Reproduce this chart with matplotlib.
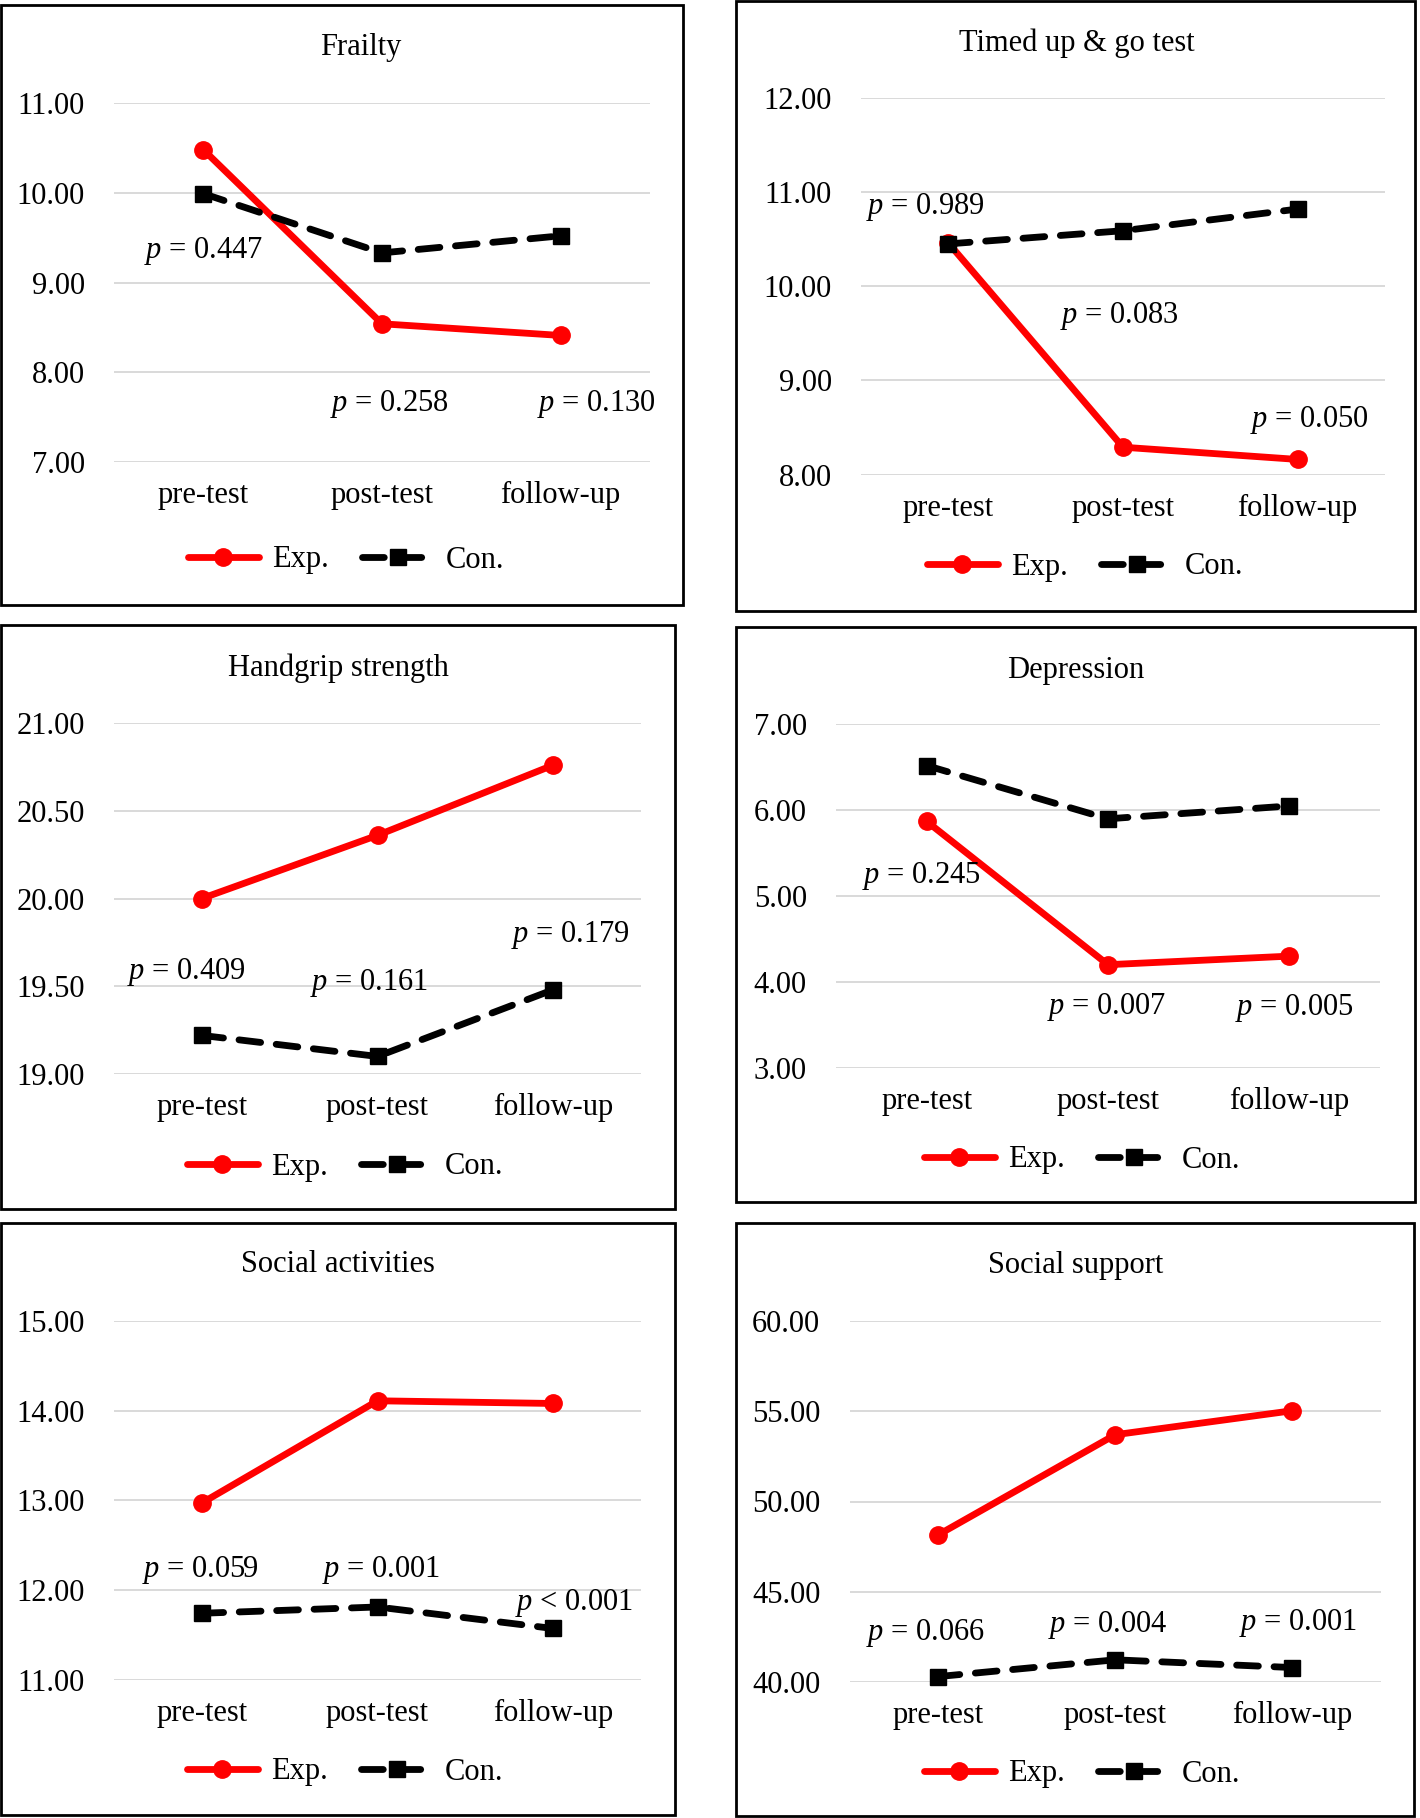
import matplotlib
matplotlib.use('Agg')
import matplotlib.pyplot as plt
from matplotlib.patches import Rectangle

plt.rcParams['font.family'] = ['Liberation Serif', 'DejaVu Serif']
plt.rcParams['mathtext.fontset'] = 'custom'
plt.rcParams['mathtext.rm'] = 'Liberation Serif'
plt.rcParams['mathtext.it'] = 'Liberation Serif:italic'

# ── Data ──────────────────────────────────────────────────────────────────────
categories = ['pre-test', 'post-test', 'follow-up']
titles = ['Frailty', 'Timed up & go test', 'Handgrip strength',
          'Depression', 'Social activities', 'Social support']

frailty_exp = [10.48, 8.54, 8.41]
frailty_con = [9.99, 9.33, 9.52]
tug_exp = [10.46, 8.29, 8.16]
tug_con = [10.45, 10.59, 10.82]
grip_exp = [20.00, 20.36, 20.76]
grip_con = [19.22, 19.10, 19.48]
dep_exp = [5.87, 4.20, 4.30]
dep_con = [6.52, 5.90, 6.05]
act_exp = [12.97, 14.11, 14.08]
act_con = [11.74, 11.81, 11.57]
sup_exp = [48.15, 53.70, 55.03]
sup_con = [40.30, 41.23, 40.80]

frailty_ticks = [7, 8, 9, 10, 11]
tug_ticks = [8, 9, 10, 11, 12]
grip_ticks = [19.0, 19.5, 20.0, 20.5, 21.0]
dep_ticks = [3, 4, 5, 6, 7]
act_ticks = [11, 12, 13, 14, 15]
sup_ticks = [40, 45, 50, 55, 60]

frailty_p = ['= 0.447', '= 0.258', '= 0.130']
tug_p = ['= 0.989', '= 0.083', '= 0.050']
grip_p = ['= 0.409', '= 0.161', '= 0.179']
dep_p = ['= 0.245', '= 0.007', '= 0.005']
act_p = ['= 0.059', '= 0.001', '< 0.001']
sup_p = ['= 0.066', '= 0.004', '= 0.001']

# ── Layout (pixels in the 1420x1818 canvas, y from top) ───────────────────────
W, H = 1420, 1818
layout = [
    # box, axes (x0, ytop, x1, ybottom), title xy, legend xy, p-label positions
    dict(box=(1, 5, 683, 605), ax=(114, 103, 650, 462), t=(361, 47), leg=(346, 560),
         pxy=[(0.0, 9.35), (1.04, 7.65), (2.20, 7.65)]),
    dict(box=(736, 1, 1415, 611), ax=(861, 98, 1385, 474.5), t=(1077, 43), leg=(1085, 567),
         pxy=[(-0.13, 10.84), (0.98, 9.68), (2.07, 8.58)]),
    dict(box=(1, 625, 675, 1209), ax=(114, 723, 641, 1074), t=(338, 668), leg=(345, 1167),
         pxy=[(-0.09, 19.58), (0.95, 19.52), (2.10, 19.79)]),
    dict(box=(736, 627, 1415, 1202), ax=(836, 724.4, 1380, 1067.7), t=(1076, 671), leg=(1082, 1160),
         pxy=[(-0.03, 5.23), (0.99, 3.71), (2.03, 3.70)]),
    dict(box=(1, 1223, 675, 1815), ax=(114, 1321, 641, 1679.6), t=(338, 1265), leg=(345, 1772),
         pxy=[(-0.01, 12.22), (1.02, 12.22), (2.12, 11.86)]),
    dict(box=(736, 1223, 1414, 1816), ax=(849.5, 1321, 1381, 1682), t=(1076, 1266), leg=(1082, 1774),
         pxy=[(-0.07, 42.69), (0.96, 43.16), (2.03, 43.27)]),
]

series = [
    (frailty_exp, frailty_con, frailty_ticks, frailty_p),
    (tug_exp, tug_con, tug_ticks, tug_p),
    (grip_exp, grip_con, grip_ticks, grip_p),
    (dep_exp, dep_con, dep_ticks, dep_p),
    (act_exp, act_con, act_ticks, act_p),
    (sup_exp, sup_con, sup_ticks, sup_p),
]

FS = 22
RED = '#ff0000'


def fx(px):
    return px / W


def fy(py):
    return 1 - py / H


fig = plt.figure(figsize=(W / 100, H / 100), dpi=100)

for title, (exp, con, ticks, pvals), lay in zip(titles, series, layout):
    x0, yt, x1, yb = lay['ax']
    ax = fig.add_axes([fx(x0), fy(yb), fx(x1) - fx(x0), fy(yt) - fy(yb)])
    xs = list(range(len(categories)))

    l_exp, = ax.plot(xs, exp, color=RED, lw=4.9, marker='o', ms=12.5,
                     solid_capstyle='round', clip_on=False, zorder=3)
    l_con, = ax.plot(xs, con, color='black', lw=4.9, marker='s', ms=12,
                     dashes=(3.2, 2.3), dash_capstyle='round',
                     clip_on=False, zorder=4)

    ax.set_xlim(-0.5, len(categories) - 0.5)
    ax.set_ylim(ticks[0], ticks[-1])
    ax.set_yticks(ticks)
    ax.set_yticklabels([f'{t:.2f}' for t in ticks])
    ax.set_xticks(xs)
    ax.set_xticklabels(categories)
    ax.tick_params(axis='both', length=0, labelsize=FS)
    ax.tick_params(axis='y', pad=21)
    ax.tick_params(axis='x', pad=14)
    for s in ax.spines.values():
        s.set_visible(False)
    ax.grid(axis='y', color='#d9d9d9', lw=1.4)
    ax.set_axisbelow(True)

    for (px, py), txt in zip(lay['pxy'], pvals):
        ax.text(px, py, r'$p$ ' + txt, ha='center', va='center',
                fontsize=FS, zorder=5)

    fig.text(fx(lay['t'][0]), fy(lay['t'][1]), title, ha='center', va='center', fontsize=FS)

    ax.legend([l_exp, l_con], ['Exp.', 'Con.'], loc='center',
              bbox_to_anchor=(fx(lay['leg'][0]), fy(lay['leg'][1])),
              bbox_transform=fig.transFigure, ncol=2, frameon=False,
              fontsize=FS, handlelength=2.35, handletextpad=0.4,
              columnspacing=1.1, borderpad=0)

    bx0, by0, bx1, by1 = lay['box']
    fig.add_artist(Rectangle((fx(bx0), fy(by1)), fx(bx1) - fx(bx0), fy(by0) - fy(by1),
                             transform=fig.transFigure, fill=False,
                             ec='black', lw=2.0))

fig.savefig('out.png', dpi=100)
